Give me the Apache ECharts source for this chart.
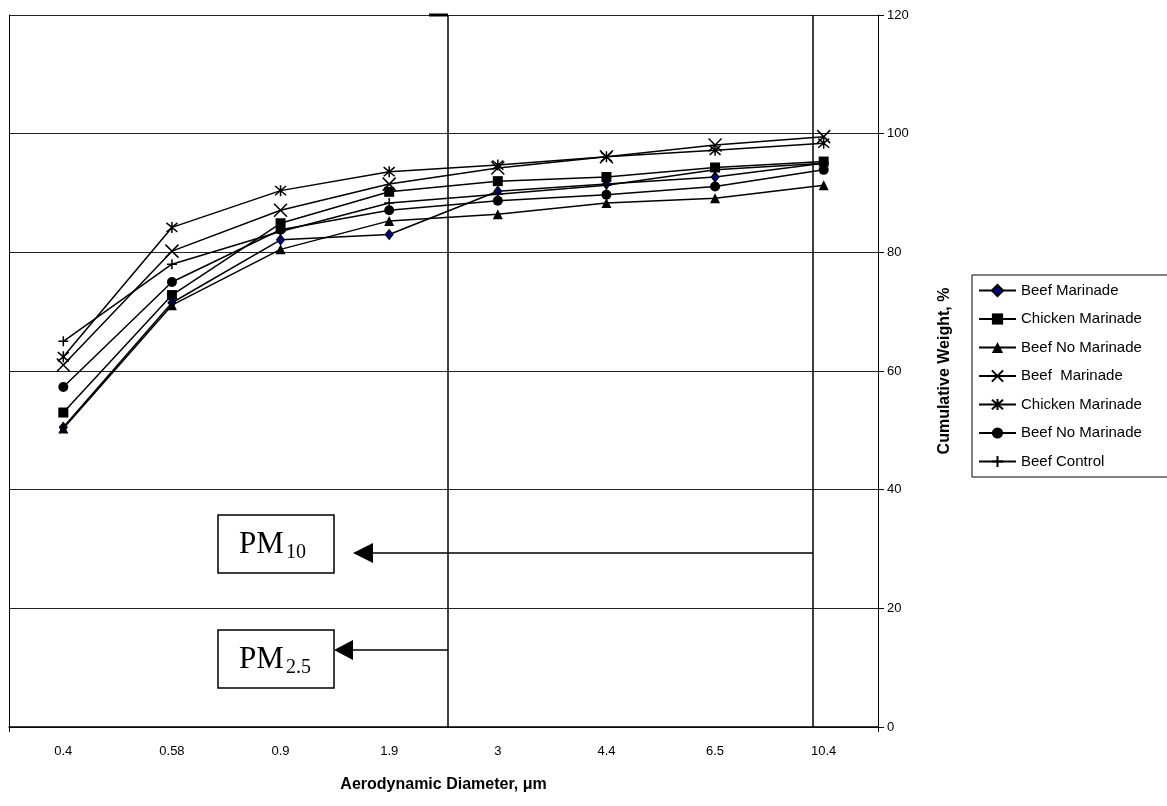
<!DOCTYPE html>
<html>
<head>
<meta charset="utf-8">
<script src="https://cdn.jsdelivr.net/npm/echarts@6/dist/echarts.min.js"></script>
<style>
html,body{margin:0;padding:0;background:#fff;}
#chart{width:1167px;height:806px;}
</style>
</head>
<body>
<div id="chart"></div>
<script>
var categories = ['0.4', '0.58', '0.9', '1.9', '3', '4.4', '6.5', '10.4'];
var yTicks = [0, 20, 40, 60, 80, 100, 120];

var beefMarinade      = [50.5, 71.5, 82.1, 83.0, 90.3, 91.5, 92.7, 95.0];
var chickenMarinade   = [53.0, 72.8, 84.9, 90.2, 92.0, 92.7, 94.3, 95.3];
var beefNoMarinade    = [50.3, 71.1, 80.5, 85.3, 86.4, 88.3, 89.1, 91.3];
var beefMarinade2     = [61.0, 80.2, 87.1, 91.5, 94.2, 96.1, 98.1, 99.5];
var chickenMarinade2  = [62.4, 84.2, 90.4, 93.6, 94.7, 96.1, 97.2, 98.4];
var beefNoMarinade2   = [57.3, 75.0, 83.8, 87.1, 88.7, 89.7, 91.1, 93.9];
var beefControl       = [65.0, 78.0, 83.5, 88.3, 89.8, 91.3, 93.9, 95.0];

var seriesNames = ['Beef Marinade', 'Chicken Marinade', 'Beef No Marinade', 'Beef  Marinade', 'Chicken Marinade ', 'Beef No Marinade ', 'Beef Control'];
var seriesValues = [beefMarinade, chickenMarinade, beefNoMarinade, beefMarinade2, chickenMarinade2, beefNoMarinade2, beefControl];

var PATH_X = 'path://M0,0L10,10M10,0L0,10';
var PATH_STAR = 'path://M0,0L10,10M10,0L0,10M5,-1L5,11';
var PATH_PLUS = 'path://M5,0L5,10M0,5L10,5';

var markerStyles = [
  {symbol: 'diamond', size: [8, 10], item: {color: '#000080', borderColor: '#000', borderWidth: 1}},
  {symbol: 'rect', size: 10, item: {color: '#000', borderColor: '#000', borderWidth: 0}},
  {symbol: 'triangle', size: 10, item: {color: '#000', borderColor: '#000', borderWidth: 0}},
  {symbol: PATH_X, size: 13, item: {color: 'rgba(0,0,0,0)', borderColor: '#000', borderWidth: 1.5}},
  {symbol: PATH_STAR, size: 11, item: {color: 'rgba(0,0,0,0)', borderColor: '#000', borderWidth: 1.5}},
  {symbol: 'circle', size: 10, item: {color: '#000', borderColor: '#000', borderWidth: 0}},
  {symbol: PATH_PLUS, size: 10, item: {color: 'rgba(0,0,0,0)', borderColor: '#000', borderWidth: 1.5}}
];

var series = seriesNames.map(function (name, i) {
  var m = markerStyles[i];
  return {
    name: name,
    type: 'line',
    data: seriesValues[i],
    symbol: m.symbol,
    symbolSize: m.size,
    showAllSymbol: true,
    lineStyle: {color: '#000', width: 1.5},
    itemStyle: m.item,
    emphasis: {disabled: true},
    animation: false,
    z: 3
  };
});

var chart = echarts.init(document.getElementById('chart'), null, {renderer: 'canvas'});

var fontSans = '"Liberation Sans", Arial, sans-serif';
var fontSerif = '"Liberation Serif", "Times New Roman", serif';

var option = {
  backgroundColor: '#fff',
  animation: false,
  grid: {left: 9, right: 289, top: 15, bottom: 79},
  legend: {
    orient: 'vertical',
    left: 972,
    top: 275,
    data: seriesNames,
    itemWidth: 37,
    itemHeight: 14,
    itemGap: 13.5,
    padding: [8, 40, 8, 6],
    borderColor: '#000',
    borderWidth: 1,
    backgroundColor: '#fff',
    selectedMode: false,
    textStyle: {fontFamily: fontSans, fontSize: 15, color: '#000'}
  },
  xAxis: {
    type: 'category',
    data: categories,
    boundaryGap: true,
    axisLine: {show: true, lineStyle: {color: '#000', width: 1.5}},
    axisTick: {show: true, length: 5, lineStyle: {color: '#000'}, interval: function (i) { return i === 0; }},
    axisLabel: {color: '#000', fontFamily: fontSans, fontSize: 13, margin: 18},
    splitLine: {show: false},
    name: 'Aerodynamic Diameter, μm',
    nameLocation: 'middle',
    nameGap: 50,
    nameTextStyle: {color: '#000', fontFamily: fontSans, fontSize: 16, fontWeight: 'bold'}
  },
  yAxis: [{
    type: 'value',
    position: 'right',
    min: 0,
    max: 120,
    interval: 20,
    axisLine: {show: true, lineStyle: {color: '#000', width: 1}},
    axisTick: {show: true, inside: false, length: 6, lineStyle: {color: '#000'}},
    axisLabel: {color: '#000', fontFamily: fontSans, fontSize: 13, margin: 9,
      formatter: function (v) { return yTicks.indexOf(v) >= 0 ? String(v) : ''; }},
    splitLine: {show: true, lineStyle: {color: '#222', width: 1}},
    name: 'Cumulative Weight, %',
    nameLocation: 'middle',
    nameGap: 59,
    nameRotate: 90,
    nameTextStyle: {color: '#000', fontFamily: fontSans, fontSize: 16, fontWeight: 'bold'}
  }, {
    type: 'value',
    position: 'left',
    min: 0,
    max: 120,
    interval: 20,
    axisLine: {show: true, lineStyle: {color: '#000', width: 1}},
    axisTick: {show: false},
    axisLabel: {show: false},
    splitLine: {show: false}
  }],
  series: series,
  graphic: [
    {type: 'line', shape: {x1: 448, y1: 15, x2: 448, y2: 727}, style: {stroke: '#000', lineWidth: 1.5}, z: 10},
    {type: 'line', shape: {x1: 429, y1: 15, x2: 448, y2: 15}, style: {stroke: '#000', lineWidth: 3}, z: 10},
    {type: 'line', shape: {x1: 813, y1: 15, x2: 813, y2: 727}, style: {stroke: '#000', lineWidth: 1.5}, z: 10},
    {type: 'line', shape: {x1: 813, y1: 553, x2: 372, y2: 553}, style: {stroke: '#000', lineWidth: 1.5}, z: 10},
    {type: 'polygon', shape: {points: [[353, 553], [373, 543], [373, 563]]}, style: {fill: '#000'}, z: 10},
    {type: 'line', shape: {x1: 448, y1: 650, x2: 352, y2: 650}, style: {stroke: '#000', lineWidth: 1.5}, z: 10},
    {type: 'polygon', shape: {points: [[334, 650], [353, 640], [353, 660]]}, style: {fill: '#000'}, z: 10},
    {type: 'rect', shape: {x: 218, y: 515, width: 116, height: 58}, style: {fill: '#fff', stroke: '#000', lineWidth: 1.5}, z: 10},
    {type: 'text', x: 239, y: 545, style: {text: 'PM', font: '31px ' + fontSerif, fill: '#000', verticalAlign: 'middle', align: 'left'}, z: 11},
    {type: 'text', x: 286, y: 553, style: {text: '10', font: '20px ' + fontSerif, fill: '#000', verticalAlign: 'middle', align: 'left'}, z: 11},
    {type: 'rect', shape: {x: 218, y: 630, width: 116, height: 58}, style: {fill: '#fff', stroke: '#000', lineWidth: 1.5}, z: 10},
    {type: 'text', x: 239, y: 660, style: {text: 'PM', font: '31px ' + fontSerif, fill: '#000', verticalAlign: 'middle', align: 'left'}, z: 11},
    {type: 'text', x: 286, y: 668, style: {text: '2.5', font: '20px ' + fontSerif, fill: '#000', verticalAlign: 'middle', align: 'left'}, z: 11}
  ]
};

chart.setOption(option);
</script>
</body>
</html>
